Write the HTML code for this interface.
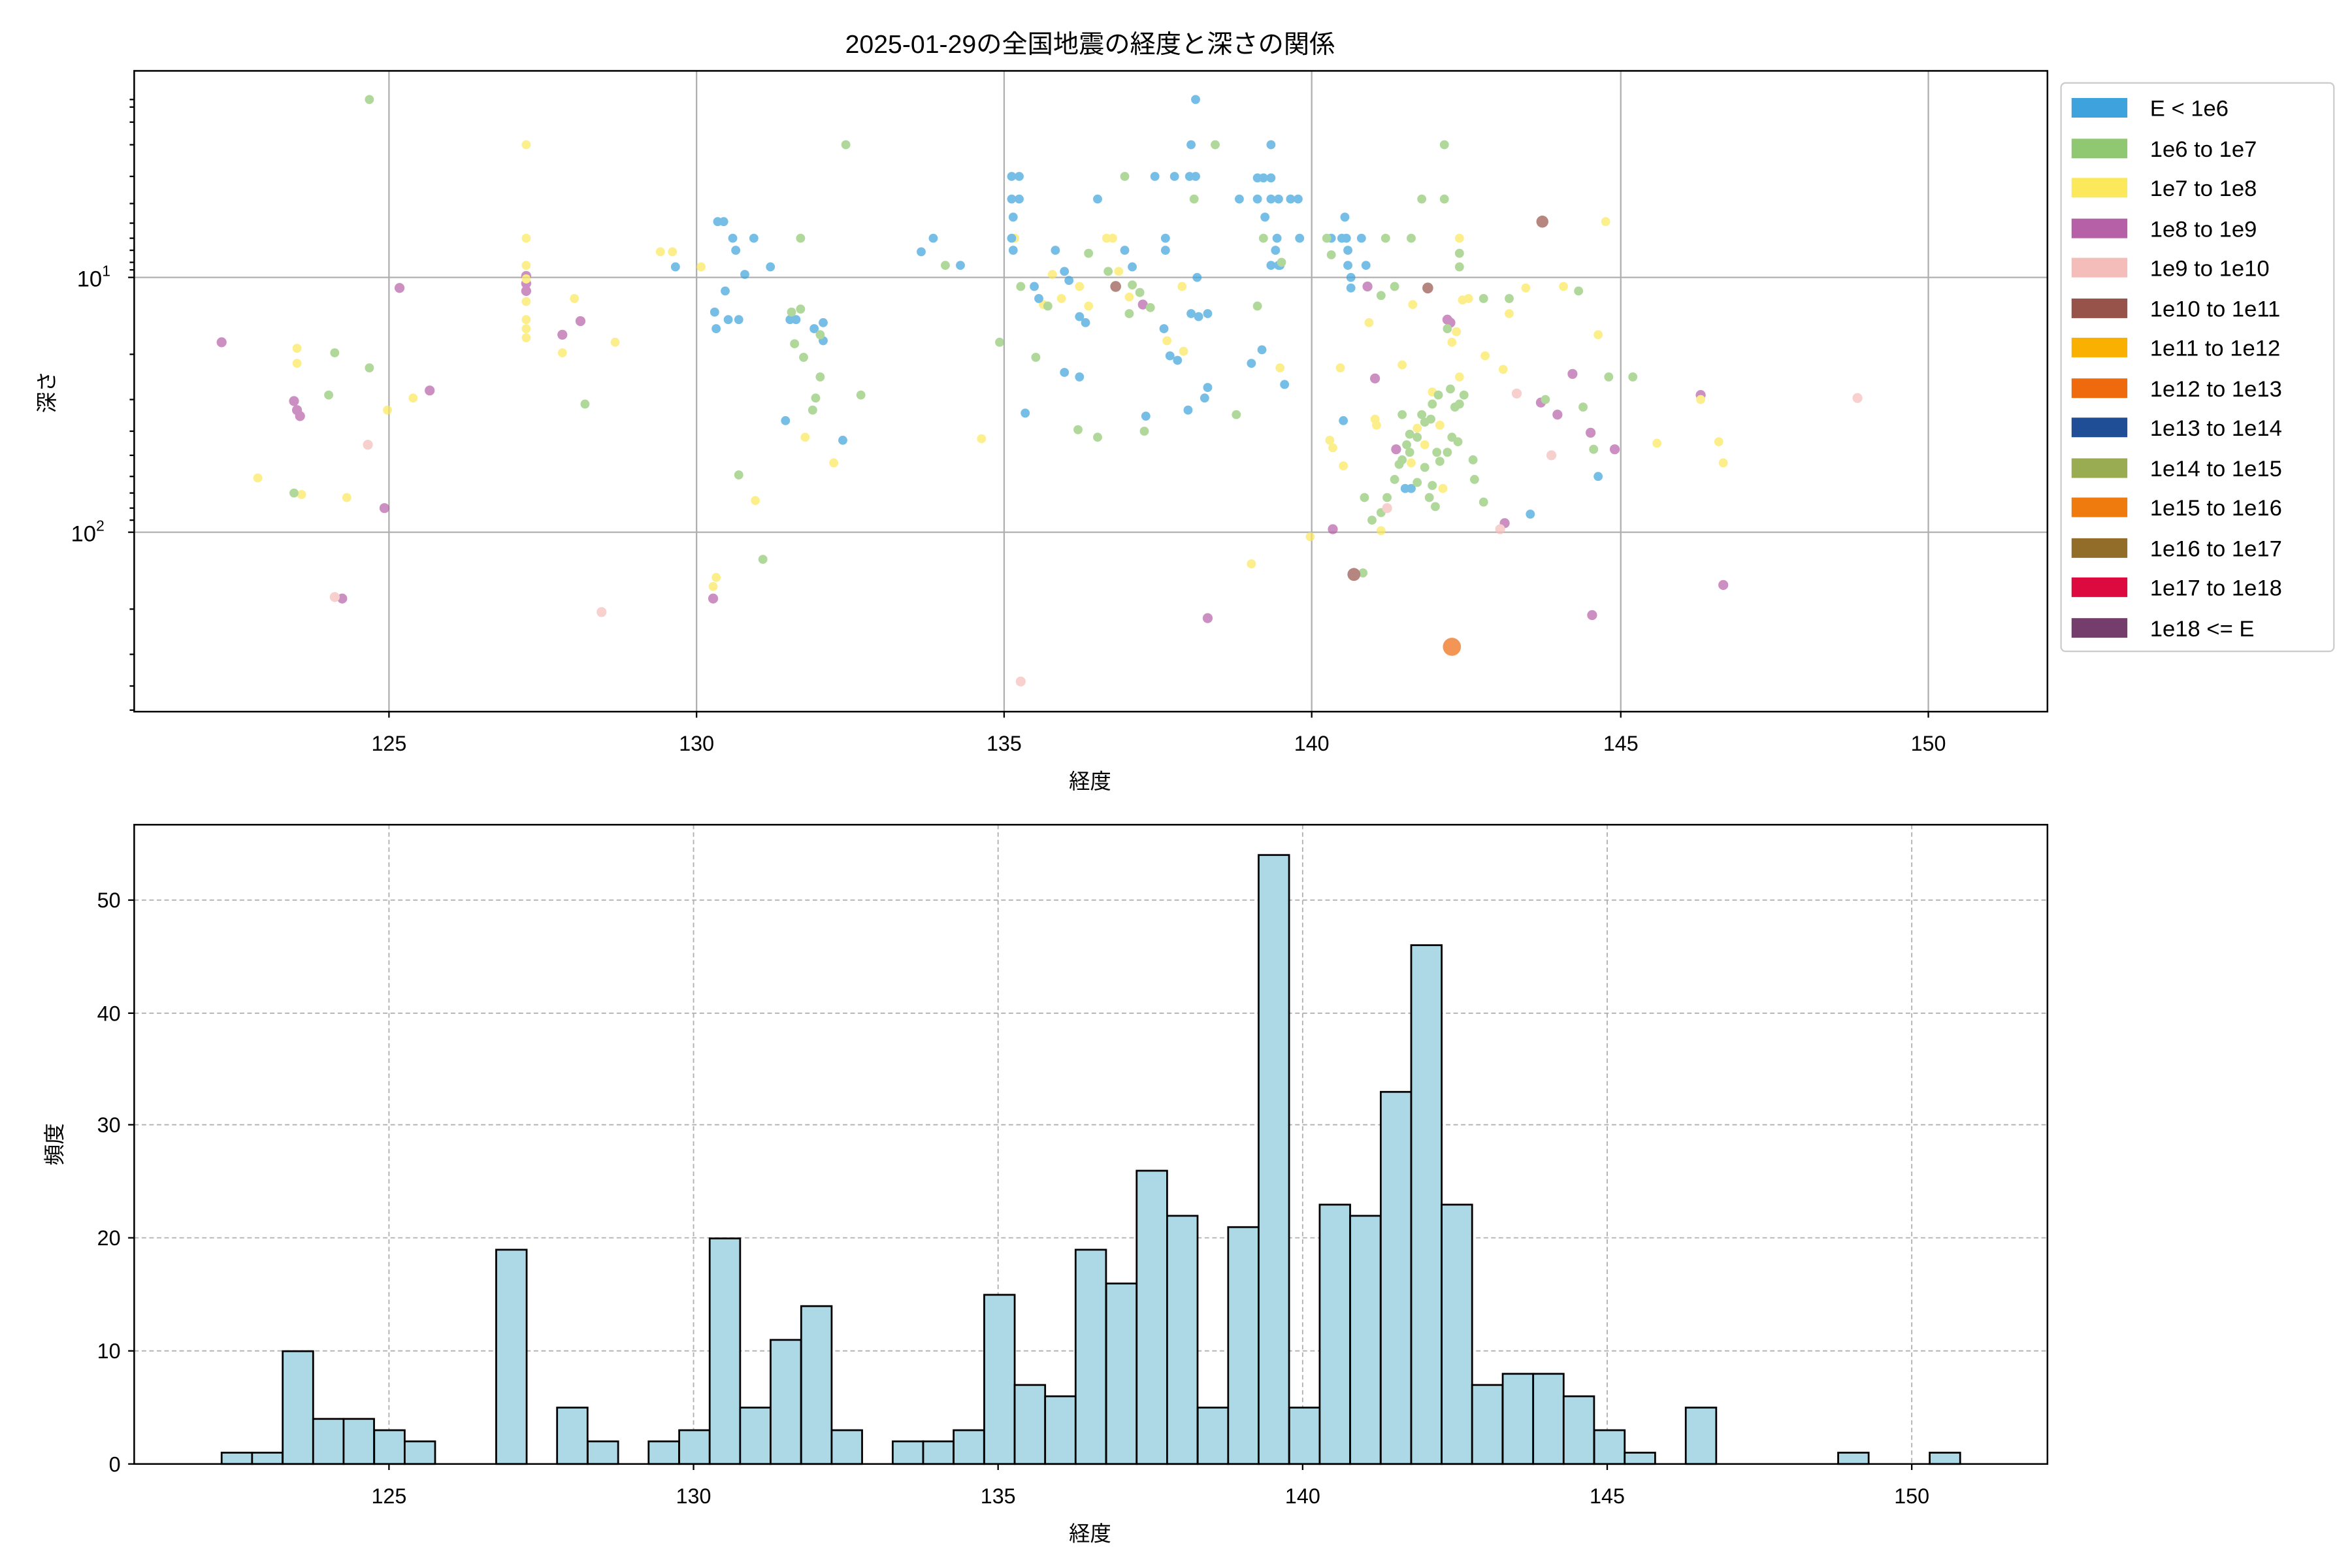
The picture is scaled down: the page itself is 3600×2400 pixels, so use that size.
<!DOCTYPE html>
<html><head><meta charset="utf-8"><style>
html,body{margin:0;padding:0;background:#fff;}
svg{display:block;}
text{font-family:"Liberation Sans","Noto Sans CJK JP",sans-serif;fill:#000;}
</style></head><body>
<svg width="3600" height="2400" viewBox="0 0 1560 1040" xmlns="http://www.w3.org/2000/svg">
<rect width="1560" height="1040" fill="#fff"/>
<text x="723" y="35" font-size="17" text-anchor="middle">2025-01-29の全国地震の経度と深さの関係</text>
<!-- top grid -->
<g stroke="#b0b0b0" stroke-width="1">
<line x1="258" y1="47" x2="258" y2="472"/><line x1="462" y1="47" x2="462" y2="472"/>
<line x1="666" y1="47" x2="666" y2="472"/><line x1="870" y1="47" x2="870" y2="472"/>
<line x1="1075" y1="47" x2="1075" y2="472"/><line x1="1279" y1="47" x2="1279" y2="472"/>
<line x1="89" y1="184" x2="1358" y2="184"/><line x1="89" y1="353" x2="1358" y2="353"/>
</g>
<g id="pts" opacity="0.7">
<g fill="#b660a8"><circle cx="147" cy="227" r="3.3"/><circle cx="265" cy="191" r="3.3"/><circle cx="195" cy="266" r="3.3"/><circle cx="197" cy="272" r="3.3"/><circle cx="199" cy="276" r="3.3"/><circle cx="285" cy="259" r="3.3"/><circle cx="349" cy="183" r="3.3"/><circle cx="349" cy="188" r="3.3"/><circle cx="349" cy="193" r="3.3"/><circle cx="373" cy="222" r="3.3"/><circle cx="385" cy="213" r="3.3"/><circle cx="255" cy="337" r="3.3"/><circle cx="227" cy="397" r="3.3"/><circle cx="473" cy="397" r="3.3"/><circle cx="740" cy="190" r="3.3"/><circle cx="758" cy="202" r="3.3"/><circle cx="907" cy="190" r="3.3"/><circle cx="912" cy="251" r="3.3"/><circle cx="960" cy="212" r="3.3"/><circle cx="1022" cy="267" r="3.3"/><circle cx="1033" cy="275" r="3.3"/><circle cx="1043" cy="248" r="3.3"/><circle cx="1055" cy="287" r="3.3"/><circle cx="1071" cy="298" r="3.3"/><circle cx="1128" cy="262" r="3.3"/><circle cx="1143" cy="388" r="3.3"/><circle cx="1056" cy="408" r="3.3"/><circle cx="801" cy="410" r="3.3"/><circle cx="998" cy="347" r="3.3"/><circle cx="884" cy="351" r="3.3"/><circle cx="926" cy="298" r="3.3"/><circle cx="962" cy="214" r="3.3"/></g>
<g fill="#fbe95b"><circle cx="349" cy="96" r="3"/><circle cx="349" cy="158" r="3"/><circle cx="349" cy="176" r="3"/><circle cx="349" cy="185" r="3"/><circle cx="349" cy="200" r="3"/><circle cx="349" cy="212" r="3"/><circle cx="349" cy="218" r="3"/><circle cx="349" cy="224" r="3"/><circle cx="197" cy="231" r="3"/><circle cx="197" cy="241" r="3"/><circle cx="171" cy="317" r="3"/><circle cx="200" cy="328" r="3"/><circle cx="230" cy="330" r="3"/><circle cx="257" cy="272" r="3"/><circle cx="274" cy="264" r="3"/><circle cx="373" cy="234" r="3"/><circle cx="381" cy="198" r="3"/><circle cx="408" cy="227" r="3"/><circle cx="438" cy="167" r="3"/><circle cx="446" cy="167" r="3"/><circle cx="465" cy="177" r="3"/><circle cx="475" cy="383" r="3"/><circle cx="473" cy="389" r="3"/><circle cx="501" cy="332" r="3"/><circle cx="534" cy="290" r="3"/><circle cx="553" cy="307" r="3"/><circle cx="651" cy="291" r="3"/><circle cx="673" cy="158" r="3"/><circle cx="692" cy="202" r="3"/><circle cx="698" cy="182" r="3"/><circle cx="704" cy="198" r="3"/><circle cx="716" cy="190" r="3"/><circle cx="722" cy="203" r="3"/><circle cx="734" cy="158" r="3"/><circle cx="738" cy="158" r="3"/><circle cx="742" cy="180" r="3"/><circle cx="749" cy="197" r="3"/><circle cx="774" cy="226" r="3"/><circle cx="784" cy="190" r="3"/><circle cx="785" cy="233" r="3"/><circle cx="849" cy="244" r="3"/><circle cx="830" cy="374" r="3"/><circle cx="869" cy="356" r="3"/><circle cx="889" cy="244" r="3"/><circle cx="884" cy="297" r="3"/><circle cx="882" cy="292" r="3"/><circle cx="891" cy="309" r="3"/><circle cx="908" cy="214" r="3"/><circle cx="912" cy="278" r="3"/><circle cx="913" cy="282" r="3"/><circle cx="916" cy="352" r="3"/><circle cx="930" cy="242" r="3"/><circle cx="937" cy="202" r="3"/><circle cx="950" cy="260" r="3"/><circle cx="963" cy="227" r="3"/><circle cx="966" cy="220" r="3"/><circle cx="968" cy="158" r="3"/><circle cx="970" cy="199" r="3"/><circle cx="974" cy="198" r="3"/><circle cx="985" cy="236" r="3"/><circle cx="997" cy="245" r="3"/><circle cx="1001" cy="208" r="3"/><circle cx="1012" cy="191" r="3"/><circle cx="1037" cy="190" r="3"/><circle cx="1060" cy="222" r="3"/><circle cx="1065" cy="147" r="3"/><circle cx="1099" cy="294" r="3"/><circle cx="1140" cy="293" r="3"/><circle cx="1143" cy="307" r="3"/><circle cx="1128" cy="265" r="3"/><circle cx="955" cy="282" r="3"/><circle cx="945" cy="295" r="3"/><circle cx="936" cy="307" r="3"/><circle cx="957" cy="324" r="3"/><circle cx="940" cy="284" r="3"/><circle cx="968" cy="250" r="3"/></g>
<g fill="#3ea3dc"><circle cx="448" cy="177" r="3"/><circle cx="476" cy="147" r="3"/><circle cx="480" cy="147" r="3"/><circle cx="486" cy="158" r="3"/><circle cx="488" cy="166" r="3"/><circle cx="474" cy="207" r="3"/><circle cx="475" cy="218" r="3"/><circle cx="481" cy="193" r="3"/><circle cx="483" cy="212" r="3"/><circle cx="490" cy="212" r="3"/><circle cx="494" cy="182" r="3"/><circle cx="500" cy="158" r="3"/><circle cx="511" cy="177" r="3"/><circle cx="524" cy="212" r="3"/><circle cx="528" cy="212" r="3"/><circle cx="540" cy="218" r="3"/><circle cx="546" cy="214" r="3"/><circle cx="546" cy="226" r="3"/><circle cx="521" cy="279" r="3"/><circle cx="559" cy="292" r="3"/><circle cx="611" cy="167" r="3"/><circle cx="619" cy="158" r="3"/><circle cx="637" cy="176" r="3"/><circle cx="671" cy="117" r="3"/><circle cx="676" cy="117" r="3"/><circle cx="671" cy="132" r="3"/><circle cx="676" cy="132" r="3"/><circle cx="671" cy="158" r="3"/><circle cx="672" cy="166" r="3"/><circle cx="680" cy="274" r="3"/><circle cx="686" cy="190" r="3"/><circle cx="689" cy="198" r="3"/><circle cx="700" cy="166" r="3"/><circle cx="706" cy="180" r="3"/><circle cx="709" cy="186" r="3"/><circle cx="716" cy="210" r="3"/><circle cx="720" cy="214" r="3"/><circle cx="706" cy="247" r="3"/><circle cx="716" cy="250" r="3"/><circle cx="728" cy="132" r="3"/><circle cx="746" cy="166" r="3"/><circle cx="751" cy="177" r="3"/><circle cx="766" cy="117" r="3"/><circle cx="773" cy="158" r="3"/><circle cx="773" cy="166" r="3"/><circle cx="772" cy="218" r="3"/><circle cx="776" cy="236" r="3"/><circle cx="781" cy="239" r="3"/><circle cx="779" cy="117" r="3"/><circle cx="789" cy="117" r="3"/><circle cx="760" cy="276" r="3"/><circle cx="788" cy="272" r="3"/><circle cx="793" cy="117" r="3"/><circle cx="793" cy="66" r="3"/><circle cx="790" cy="208" r="3"/><circle cx="795" cy="210" r="3"/><circle cx="801" cy="208" r="3"/><circle cx="799" cy="264" r="3"/><circle cx="801" cy="257" r="3"/><circle cx="794" cy="184" r="3"/><circle cx="834" cy="118" r="3"/><circle cx="834" cy="132" r="3"/><circle cx="843" cy="132" r="3"/><circle cx="848" cy="132" r="3"/><circle cx="847" cy="158" r="3"/><circle cx="849" cy="176" r="3"/><circle cx="843" cy="176" r="3"/><circle cx="856" cy="132" r="3"/><circle cx="861" cy="132" r="3"/><circle cx="862" cy="158" r="3"/><circle cx="830" cy="241" r="3"/><circle cx="837" cy="232" r="3"/><circle cx="852" cy="255" r="3"/><circle cx="890" cy="158" r="3"/><circle cx="892" cy="144" r="3"/><circle cx="893" cy="158" r="3"/><circle cx="894" cy="166" r="3"/><circle cx="894" cy="176" r="3"/><circle cx="896" cy="184" r="3"/><circle cx="891" cy="279" r="3"/><circle cx="896" cy="191" r="3"/><circle cx="903" cy="158" r="3"/><circle cx="906" cy="176" r="3"/><circle cx="932" cy="324" r="3"/><circle cx="936" cy="324" r="3"/><circle cx="1015" cy="341" r="3"/><circle cx="1060" cy="316" r="3"/><circle cx="838" cy="118" r="3"/><circle cx="839" cy="144" r="3"/><circle cx="846" cy="166" r="3"/><circle cx="848" cy="176" r="3"/><circle cx="822" cy="132" r="3"/><circle cx="843" cy="96" r="3"/><circle cx="790" cy="96" r="3"/><circle cx="672" cy="144" r="3"/><circle cx="843" cy="118" r="3"/><circle cx="883" cy="158" r="3"/></g>
<g fill="#8fc870"><circle cx="245" cy="66" r="3"/><circle cx="245" cy="244" r="3"/><circle cx="222" cy="234" r="3"/><circle cx="218" cy="262" r="3"/><circle cx="195" cy="327" r="3"/><circle cx="388" cy="268" r="3"/><circle cx="490" cy="315" r="3"/><circle cx="506" cy="371" r="3"/><circle cx="531" cy="158" r="3"/><circle cx="561" cy="96" r="3"/><circle cx="525" cy="207" r="3"/><circle cx="527" cy="228" r="3"/><circle cx="531" cy="205" r="3"/><circle cx="533" cy="237" r="3"/><circle cx="539" cy="272" r="3"/><circle cx="541" cy="264" r="3"/><circle cx="544" cy="250" r="3"/><circle cx="544" cy="222" r="3"/><circle cx="571" cy="262" r="3"/><circle cx="663" cy="227" r="3"/><circle cx="677" cy="190" r="3"/><circle cx="687" cy="237" r="3"/><circle cx="695" cy="203" r="3"/><circle cx="715" cy="285" r="3"/><circle cx="722" cy="168" r="3"/><circle cx="728" cy="290" r="3"/><circle cx="735" cy="180" r="3"/><circle cx="746" cy="117" r="3"/><circle cx="749" cy="208" r="3"/><circle cx="751" cy="189" r="3"/><circle cx="756" cy="194" r="3"/><circle cx="759" cy="286" r="3"/><circle cx="763" cy="204" r="3"/><circle cx="792" cy="132" r="3"/><circle cx="806" cy="96" r="3"/><circle cx="820" cy="275" r="3"/><circle cx="834" cy="203" r="3"/><circle cx="850" cy="174" r="3"/><circle cx="880" cy="158" r="3"/><circle cx="883" cy="169" r="3"/><circle cx="905" cy="330" r="3"/><circle cx="904" cy="380" r="3"/><circle cx="919" cy="158" r="3"/><circle cx="925" cy="190" r="3"/><circle cx="943" cy="132" r="3"/><circle cx="958" cy="132" r="3"/><circle cx="958" cy="96" r="3"/><circle cx="960" cy="218" r="3"/><circle cx="955" cy="306" r="3"/><circle cx="952" cy="336" r="3"/><circle cx="967" cy="293" r="3"/><circle cx="968" cy="177" r="3"/><circle cx="968" cy="168" r="3"/><circle cx="977" cy="305" r="3"/><circle cx="984" cy="198" r="3"/><circle cx="1001" cy="198" r="3"/><circle cx="1025" cy="265" r="3"/><circle cx="1047" cy="193" r="3"/><circle cx="1057" cy="298" r="3"/><circle cx="1067" cy="250" r="3"/><circle cx="916" cy="340" r="3"/><circle cx="920" cy="330" r="3"/><circle cx="925" cy="318" r="3"/><circle cx="928" cy="308" r="3"/><circle cx="935" cy="300" r="3"/><circle cx="940" cy="290" r="3"/><circle cx="945" cy="280" r="3"/><circle cx="950" cy="268" r="3"/><circle cx="954" cy="262" r="3"/><circle cx="960" cy="300" r="3"/><circle cx="965" cy="270" r="3"/><circle cx="940" cy="320" r="3"/><circle cx="948" cy="330" r="3"/><circle cx="930" cy="305" r="3"/><circle cx="935" cy="288" r="3"/><circle cx="945" cy="310" r="3"/><circle cx="950" cy="322" r="3"/><circle cx="910" cy="345" r="3"/><circle cx="933" cy="295" r="3"/><circle cx="943" cy="275" r="3"/><circle cx="949" cy="278" r="3"/><circle cx="953" cy="300" r="3"/><circle cx="962" cy="258" r="3"/><circle cx="968" cy="268" r="3"/><circle cx="978" cy="318" r="3"/><circle cx="984" cy="333" r="3"/><circle cx="930" cy="275" r="3"/><circle cx="963" cy="290" r="3"/><circle cx="971" cy="262" r="3"/><circle cx="916" cy="196" r="3"/><circle cx="936" cy="158" r="3"/><circle cx="1050" cy="270" r="3"/><circle cx="1083" cy="250" r="3"/><circle cx="838" cy="158" r="3"/><circle cx="627" cy="176" r="3"/></g>
<g fill="#f5bdb9"><circle cx="244" cy="295" r="3.3"/><circle cx="222" cy="396" r="3.3"/><circle cx="399" cy="406" r="3.3"/><circle cx="677" cy="452" r="3.3"/><circle cx="920" cy="337" r="3.3"/><circle cx="1006" cy="261" r="3.3"/><circle cx="995" cy="351" r="3.3"/><circle cx="1029" cy="302" r="3.3"/><circle cx="1232" cy="264" r="3.3"/></g>
<g fill="#975249"><circle cx="898" cy="381" r="4.3"/><circle cx="1023" cy="147" r="4"/><circle cx="947" cy="191" r="3.6"/><circle cx="740" cy="190" r="3.6"/></g>
<circle cx="963" cy="429" r="6" fill="#ee6a0d"/>
</g>
<rect x="89" y="47" width="1269" height="425" fill="none" stroke="#000" stroke-width="1.1"/>
<!-- top ticks -->
<g stroke="#000" stroke-width="1">
<line x1="258" y1="472" x2="258" y2="476"/><line x1="462" y1="472" x2="462" y2="476"/><line x1="666" y1="472" x2="666" y2="476"/><line x1="870" y1="472" x2="870" y2="476"/><line x1="1075" y1="472" x2="1075" y2="476"/><line x1="1279" y1="472" x2="1279" y2="476"/>
<line x1="85" y1="184" x2="89" y2="184"/><line x1="85" y1="353" x2="89" y2="353"/>
<line x1="86" y1="66" x2="89" y2="66"/><line x1="86" y1="117" x2="89" y2="117"/><line x1="86" y1="96" x2="89" y2="96"/><line x1="86" y1="81" x2="89" y2="81"/><line x1="86" y1="71" x2="89" y2="71"/><line x1="86" y1="135" x2="89" y2="135"/><line x1="86" y1="148" x2="89" y2="148"/><line x1="86" y1="158" x2="89" y2="158"/><line x1="86" y1="166" x2="89" y2="166"/><line x1="86" y1="174" x2="89" y2="174"/><line x1="86" y1="179" x2="89" y2="179"/>
<line x1="86" y1="235" x2="89" y2="235"/><line x1="86" y1="265" x2="89" y2="265"/><line x1="86" y1="286" x2="89" y2="286"/><line x1="86" y1="302" x2="89" y2="302"/><line x1="86" y1="316" x2="89" y2="316"/><line x1="86" y1="327" x2="89" y2="327"/><line x1="86" y1="337" x2="89" y2="337"/><line x1="86" y1="345" x2="89" y2="345"/>
<line x1="86" y1="404" x2="89" y2="404"/><line x1="86" y1="434" x2="89" y2="434"/><line x1="86" y1="455" x2="89" y2="455"/><line x1="86" y1="471" x2="89" y2="471"/>
</g>
<g font-size="14" text-anchor="middle"><text x="258" y="498">125</text><text x="462" y="498">130</text><text x="666" y="498">135</text><text x="870" y="498">140</text><text x="1075" y="498">145</text><text x="1279" y="498">150</text></g>
<text x="51" y="190" font-size="15">10<tspan font-size="10" dy="-7">1</tspan></text>
<text x="47" y="359" font-size="15">10<tspan font-size="10" dy="-7">2</tspan></text>
<text x="723" y="523" font-size="14" text-anchor="middle">経度</text>
<text transform="translate(36,260) rotate(-90)" font-size="14" text-anchor="middle">深さ</text>
<!-- legend -->
<rect x="1367" y="55" width="181" height="377" rx="3" fill="#fff" stroke="#ccc"/>
<g font-size="15">
<rect x="1374" y="65" width="37" height="13" fill="#3ea3dc"/><text x="1426" y="77">E &lt; 1e6</text>
<rect x="1374" y="92" width="37" height="13" fill="#8fc870"/><text x="1426" y="104">1e6 to 1e7</text>
<rect x="1374" y="118" width="37" height="13" fill="#fbe95b"/><text x="1426" y="130">1e7 to 1e8</text>
<rect x="1374" y="145" width="37" height="13" fill="#b660a8"/><text x="1426" y="157">1e8 to 1e9</text>
<rect x="1374" y="171" width="37" height="13" fill="#f5bdb9"/><text x="1426" y="183">1e9 to 1e10</text>
<rect x="1374" y="198" width="37" height="13" fill="#975249"/><text x="1426" y="210">1e10 to 1e11</text>
<rect x="1374" y="224" width="37" height="13" fill="#fab000"/><text x="1426" y="236">1e11 to 1e12</text>
<rect x="1374" y="251" width="37" height="13" fill="#ee6a0d"/><text x="1426" y="263">1e12 to 1e13</text>
<rect x="1374" y="277" width="37" height="13" fill="#1f4e96"/><text x="1426" y="289">1e13 to 1e14</text>
<rect x="1374" y="304" width="37" height="13" fill="#9aac52"/><text x="1426" y="316">1e14 to 1e15</text>
<rect x="1374" y="330" width="37" height="13" fill="#ef7a0d"/><text x="1426" y="342">1e15 to 1e16</text>
<rect x="1374" y="357" width="37" height="13" fill="#926d2a"/><text x="1426" y="369">1e16 to 1e17</text>
<rect x="1374" y="383" width="37" height="13" fill="#dc0a3f"/><text x="1426" y="395">1e17 to 1e18</text>
<rect x="1374" y="410" width="37" height="13" fill="#743d6c"/><text x="1426" y="422">1e18 &lt;= E</text>
</g>
<!-- bottom grid -->
<g stroke="#b0b0b0" stroke-width="0.8" stroke-dasharray="3,2">
<line x1="258" y1="547" x2="258" y2="971"/><line x1="460" y1="547" x2="460" y2="971"/><line x1="662" y1="547" x2="662" y2="971"/><line x1="864" y1="547" x2="864" y2="971"/><line x1="1066" y1="547" x2="1066" y2="971"/><line x1="1268" y1="547" x2="1268" y2="971"/>
<line x1="89" y1="896" x2="1358" y2="896"/><line x1="89" y1="821" x2="1358" y2="821"/><line x1="89" y1="746" x2="1358" y2="746"/><line x1="89" y1="672" x2="1358" y2="672"/><line x1="89" y1="597" x2="1358" y2="597"/>
</g>
<g id="bars" fill="#add8e6" stroke="#000" stroke-width="1.2"></g>
<rect x="89" y="547" width="1269" height="424" fill="none" stroke="#000" stroke-width="1.1"/>
<g stroke="#000"><line x1="258" y1="971" x2="258" y2="975"/><line x1="460" y1="971" x2="460" y2="975"/><line x1="662" y1="971" x2="662" y2="975"/><line x1="864" y1="971" x2="864" y2="975"/><line x1="1066" y1="971" x2="1066" y2="975"/><line x1="1268" y1="971" x2="1268" y2="975"/>
<line x1="85" y1="971" x2="89" y2="971"/><line x1="85" y1="896" x2="89" y2="896"/><line x1="85" y1="821" x2="89" y2="821"/><line x1="85" y1="746" x2="89" y2="746"/><line x1="85" y1="672" x2="89" y2="672"/><line x1="85" y1="597" x2="89" y2="597"/></g>
<g font-size="14" text-anchor="middle"><text x="258" y="997">125</text><text x="460" y="997">130</text><text x="662" y="997">135</text><text x="864" y="997">140</text><text x="1066" y="997">145</text><text x="1268" y="997">150</text></g>
<g font-size="14" text-anchor="end"><text x="80" y="976">0</text><text x="80" y="901">10</text><text x="80" y="826">20</text><text x="80" y="751">30</text><text x="80" y="677">40</text><text x="80" y="602">50</text></g>
<text x="723" y="1022" font-size="14" text-anchor="middle">経度</text>
<text transform="translate(41,759) rotate(-90)" font-size="14" text-anchor="middle">頻度</text>
<g fill="#add8e6" stroke="#000" stroke-width="1.2">
<rect x="147.0" y="963.5" width="20.2" height="7.5"/><rect x="167.2" y="963.5" width="20.2" height="7.5"/><rect x="187.5" y="896.2" width="20.2" height="74.8"/><rect x="207.7" y="941.1" width="20.2" height="29.9"/><rect x="227.9" y="941.1" width="20.2" height="29.9"/><rect x="248.2" y="948.6" width="20.2" height="22.4"/><rect x="268.4" y="956.0" width="20.2" height="15.0"/>
<rect x="329.1" y="828.9" width="20.2" height="142.1"/><rect x="369.5" y="933.6" width="20.2" height="37.4"/><rect x="389.8" y="956.0" width="20.2" height="15.0"/><rect x="430.2" y="956.0" width="20.2" height="15.0"/><rect x="450.5" y="948.6" width="20.2" height="22.4"/><rect x="470.7" y="821.4" width="20.2" height="149.6"/><rect x="490.9" y="933.6" width="20.2" height="37.4"/><rect x="511.1" y="888.7" width="20.2" height="82.3"/><rect x="531.4" y="866.3" width="20.2" height="104.7"/><rect x="551.6" y="948.6" width="20.2" height="22.4"/>
<rect x="592.1" y="956.0" width="20.2" height="15.0"/><rect x="612.3" y="956.0" width="20.2" height="15.0"/><rect x="632.5" y="948.6" width="20.2" height="22.4"/><rect x="652.8" y="858.8" width="20.2" height="112.2"/><rect x="673.0" y="918.6" width="20.2" height="52.4"/><rect x="693.2" y="926.1" width="20.2" height="44.9"/><rect x="713.4" y="828.9" width="20.2" height="142.1"/><rect x="733.7" y="851.3" width="20.2" height="119.7"/><rect x="753.9" y="776.5" width="20.2" height="194.5"/><rect x="774.1" y="806.4" width="20.2" height="164.6"/><rect x="794.4" y="933.6" width="20.2" height="37.4"/><rect x="814.6" y="813.9" width="20.2" height="157.1"/><rect x="834.8" y="567.1" width="20.2" height="403.9"/><rect x="855.1" y="933.6" width="20.2" height="37.4"/><rect x="875.3" y="799.0" width="20.2" height="172.0"/><rect x="895.5" y="806.4" width="20.2" height="164.6"/><rect x="915.8" y="724.2" width="20.2" height="246.8"/><rect x="936.0" y="626.9" width="20.2" height="344.1"/><rect x="956.2" y="799.0" width="20.2" height="172.0"/><rect x="976.4" y="918.6" width="20.2" height="52.4"/><rect x="996.7" y="911.2" width="20.2" height="59.8"/><rect x="1016.9" y="911.2" width="20.2" height="59.8"/><rect x="1037.1" y="926.1" width="20.2" height="44.9"/><rect x="1057.4" y="948.6" width="20.2" height="22.4"/><rect x="1077.6" y="963.5" width="20.2" height="7.5"/><rect x="1118.1" y="933.6" width="20.2" height="37.4"/><rect x="1219.2" y="963.5" width="20.2" height="7.5"/><rect x="1279.9" y="963.5" width="20.2" height="7.5"/>
</g>
</svg>
</body></html>
